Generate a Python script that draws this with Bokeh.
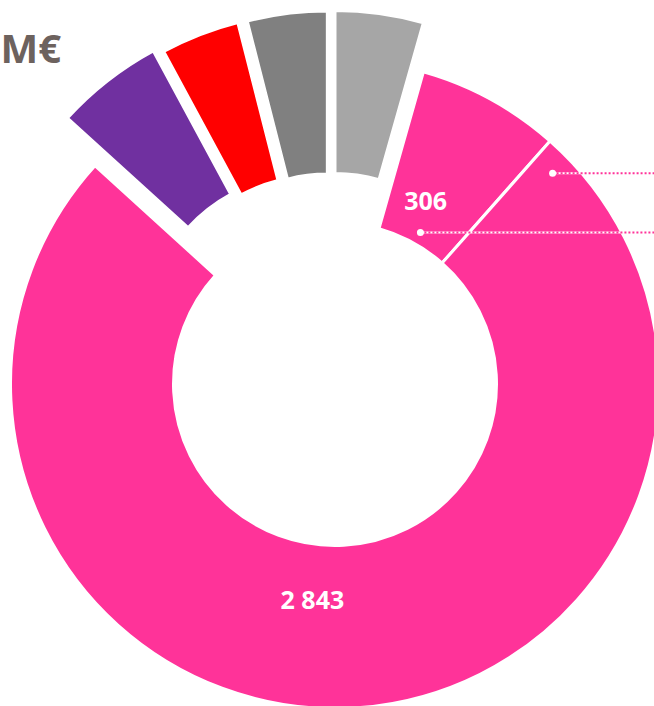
import math
from bokeh.plotting import figure
from bokeh.models import ColumnDataSource, Range1d
from bokeh.core.properties import value
from bokeh.embed import file_html
from bokeh.resources import INLINE

# ---- data (clockwise from 12 o'clock) ----
categories = ["Gris clair", "Rose 306", "Rose 2 843", "Violet", "Rouge", "Gris foncé"]
values = [166, 270, 2843, 203, 148, 150]
slice_labels = ["", "306", "2 843", "", "", ""]
unit_label = "M€"

# ---- styles ----
colors = ["#A6A6A6", "#FF3399", "#FF3399", "#7030A0", "#FF0000", "#808080"]
# explosion offset of each slice: (distance, direction in deg clockwise from top)
explode = [(49, 0.0), (0, 0.0), (0, 0.0), (55, -30.0), (50, -20.0), (49, -9.0)]
label_polar = {1: (26.4, 204), 2: (186.0, 216)}      # (deg clockwise from top, radius)
leader_polar = {1: (29.4, 174), 2: (45.9, 303)}

W, H = 654, 706
cx, cy = 334.5, H - 383.5
r_in, r_out = 161.5, 324.5

p = figure(width=W, height=H, x_range=Range1d(0, W), y_range=Range1d(0, H),
           output_backend="svg", toolbar_location=None, min_border=0,
           background_fill_color="white", border_fill_color="white")
p.axis.visible = False
p.xgrid.visible = False
p.ygrid.visible = False
p.outline_line_color = None

total = float(sum(values))
xs, ys, starts, ends = [], [], [], []
acc = 0.0
for v, (d, dirdeg) in zip(values, explode):
    a0 = acc
    a1 = acc + v / total * 2 * math.pi
    da = math.radians(dirdeg)
    xs.append(cx + d * math.sin(da))
    ys.append(cy + d * math.cos(da))
    starts.append(math.pi / 2 - a1)
    ends.append(math.pi / 2 - a0)
    acc = a1

src = ColumnDataSource(dict(x=xs, y=ys, start=starts, end=ends, color=colors, cat=categories))
p.annular_wedge(x="x", y="y", inner_radius=r_in, outer_radius=r_out,
                start_angle="start", end_angle="end", direction="anticlock",
                fill_color="color", line_color="white", line_width=3, source=src)

# leader lines with dots
for i, (ang, r) in leader_polar.items():
    a = math.radians(ang)
    lx = xs[i] + r * math.sin(a)
    ly = ys[i] + r * math.cos(a)
    p.line([lx, W], [ly, ly], line_color="white", line_width=2)
    p.line([lx, W], [ly, ly], line_color="#FF3399", line_width=2, line_dash="2 2")
    p.scatter([lx], [ly], size=7, fill_color="white", line_color=None)

# slice labels
lab_x, lab_y, lab_t = [], [], []
for i, (ang, r) in label_polar.items():
    a = math.radians(ang)
    lab_x.append(xs[i] + r * math.sin(a))
    lab_y.append(ys[i] + r * math.cos(a))
    lab_t.append(slice_labels[i])
p.text(x=lab_x, y=lab_y, text=lab_t, text_color="white", text_font=value("Open Sans"),
       text_font_style="bold", text_font_size="25px", text_align="center",
       text_baseline="middle")

# unit label
p.text(x=[0], y=[H - 47], text=[unit_label], text_color="#6D625E",
       text_font=value("Open Sans"), text_font_style="bold", text_font_size="40px",
       text_align="left", text_baseline="alphabetic")

open("out.html", "w").write(file_html(p, INLINE))
